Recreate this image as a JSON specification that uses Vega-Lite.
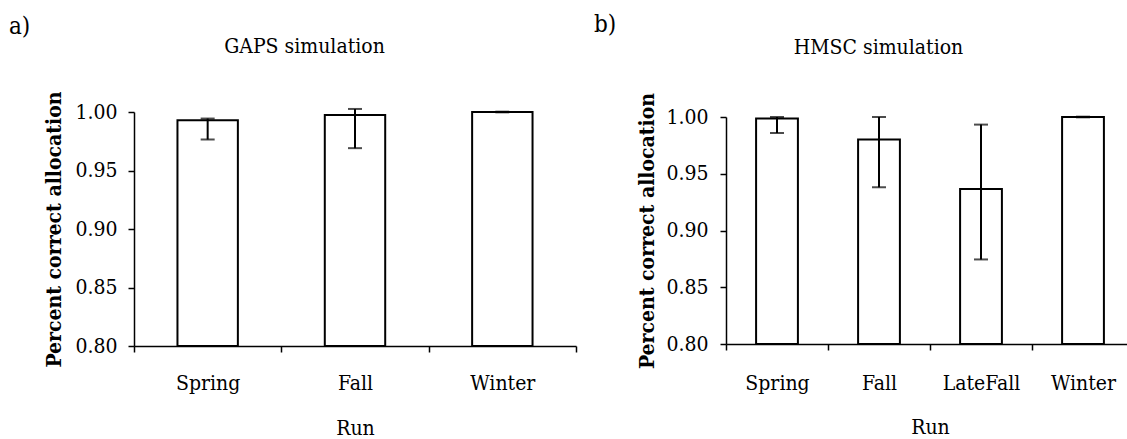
{
  "$schema": "https://vega.github.io/schema/vega-lite/v6.json",
  "autosize": {"type": "pad"},
  "padding": {"left": 9, "top": 13, "right": 0, "bottom": 0},
  "background": "white",
  "datasets": {
    "gaps": [
      {"Run": "Spring", "value": 0.9929, "lower": 0.9765, "upper": 0.9944},
      {"Run": "Fall", "value": 0.9975, "lower": 0.9691, "upper": 1.0026},
      {"Run": "Winter", "value": 1.0, "lower": 0.9997, "upper": 1.0003}
    ],
    "hmsc": [
      {"Run": "Spring", "value": 0.9986, "lower": 0.9859, "upper": 1.0},
      {"Run": "Fall", "value": 0.9801, "lower": 0.9381, "upper": 1.0},
      {"Run": "LateFall", "value": 0.9366, "lower": 0.8745, "upper": 0.9933},
      {"Run": "Winter", "value": 1.0, "lower": 0.9997, "upper": 1.0003}
    ]
  },
  "hconcat": [
    {
      "width": 442,
      "height": 234,
      "data": {"name": "gaps"},
      "title": {"text": "a)", "anchor": "start", "frame": "group", "dx": -125, "fontSize": 24, "fontWeight": "normal", "baseline": "alphabetic", "offset": -23},
      "layer": [
        {
          "mark": {"type": "bar", "fill": "white", "stroke": "black", "strokeWidth": 2, "width": {"band": 0.41}},
          "encoding": {
            "x": {"field": "Run", "type": "nominal", "sort": null, "scale": {"paddingInner": 0, "paddingOuter": 0},
              "axis": {"orient": "bottom", "title": "Run", "labelAngle": 0, "tickBand": "extent", "labelPadding": 20, "titlePadding": 24, "titleFontWeight": "normal"}},
            "y": {"field": "value", "type": "quantitative", "title": "Percent correct allocation",
              "scale": {"domain": [0.8, 1.0], "zero": false, "nice": false},
              "axis": {"values": [0.8, 0.85, 0.9, 0.95, 1.0], "format": ".2f", "labelPadding": 11, "titlePadding": 10, "titleFontSize": 21, "titleFontWeight": "bold"}},
            "y2": {"datum": 0.8}
          }
        },
        {
          "mark": {"type": "rule", "color": "black", "strokeWidth": 2},
          "encoding": {
            "x": {"field": "Run", "type": "nominal", "sort": null,
              "axis": {"orient": "top", "domain": false, "ticks": false, "labels": false, "title": "GAPS simulation", "titleFontWeight": "normal", "titleFontSize": 21, "titleX": 170, "titleY": -60, "titleBaseline": "alphabetic", "titleAlign": "center"}},
            "y": {"field": "lower", "type": "quantitative", "title": "Percent correct allocation"},
            "y2": {"field": "upper"}
          }
        },
        {
          "mark": {"type": "tick", "color": "black", "size": 14, "thickness": 2},
          "encoding": {
            "x": {"field": "Run", "type": "nominal", "sort": null, "axis": null},
            "y": {"field": "lower", "type": "quantitative", "title": "Percent correct allocation"}
          }
        },
        {
          "mark": {"type": "tick", "color": "black", "size": 14, "thickness": 2},
          "encoding": {
            "x": {"field": "Run", "type": "nominal", "sort": null, "axis": null},
            "y": {"field": "upper", "type": "quantitative", "title": "Percent correct allocation"}
          }
        }
      ],
      "resolve": {"axis": {"x": "independent"}}
    },
    {
      "width": 408,
      "height": 232,
      "data": {"name": "hmsc"},
      "title": {"text": "b)", "anchor": "start", "frame": "group", "dx": -132, "fontSize": 24, "fontWeight": "normal", "baseline": "alphabetic", "offset": -20},
      "layer": [
        {
          "mark": {"type": "bar", "fill": "white", "stroke": "black", "strokeWidth": 2, "width": {"band": 0.41}},
          "encoding": {
            "x": {"field": "Run", "type": "nominal", "sort": null, "scale": {"paddingInner": 0, "paddingOuter": 0},
              "axis": {"orient": "bottom", "title": "Run", "labelAngle": 0, "tickBand": "extent", "labelPadding": 22, "titlePadding": 23, "titleFontWeight": "normal"}},
            "y": {"field": "value", "type": "quantitative", "title": "Percent correct allocation",
              "scale": {"domain": [0.8, 1.0], "zero": false, "nice": false, "range": [232, 5]},
              "axis": {"values": [0.8, 0.85, 0.9, 0.95, 1.0], "format": ".2f", "labelPadding": 12, "titlePadding": 8, "titleFontSize": 21, "titleFontWeight": "bold"}},
            "y2": {"datum": 0.8}
          }
        },
        {
          "mark": {"type": "rule", "color": "black", "strokeWidth": 2},
          "encoding": {
            "x": {"field": "Run", "type": "nominal", "sort": null,
              "axis": {"orient": "top", "domain": false, "ticks": false, "labels": false, "title": "HMSC simulation", "titleFontWeight": "normal", "titleFontSize": 21, "titleX": 152, "titleY": -59, "titleBaseline": "alphabetic", "titleAlign": "center"}},
            "y": {"field": "lower", "type": "quantitative", "title": "Percent correct allocation"},
            "y2": {"field": "upper"}
          }
        },
        {
          "mark": {"type": "tick", "color": "black", "size": 14, "thickness": 2},
          "encoding": {
            "x": {"field": "Run", "type": "nominal", "sort": null, "axis": null},
            "y": {"field": "lower", "type": "quantitative", "title": "Percent correct allocation"}
          }
        },
        {
          "mark": {"type": "tick", "color": "black", "size": 14, "thickness": 2},
          "encoding": {
            "x": {"field": "Run", "type": "nominal", "sort": null, "axis": null},
            "y": {"field": "upper", "type": "quantitative", "title": "Percent correct allocation"}
          }
        }
      ],
      "resolve": {"axis": {"x": "independent"}}
    }
  ],
  "spacing": 150,
  "bounds": "flush",
  "config": {
    "font": "DejaVu Serif Condensed, DejaVu Serif",
    "view": {"stroke": null},
    "axis": {
      "grid": false,
      "domainColor": "black",
      "domainWidth": 1.5,
      "tickColor": "black",
      "tickWidth": 1.5,
      "tickSize": 6,
      "labelColor": "black",
      "titleColor": "black",
      "labelFontSize": 21,
      "titleFontSize": 21,
      "labelFont": "DejaVu Serif Condensed, DejaVu Serif",
      "titleFont": "DejaVu Serif Condensed, DejaVu Serif"
    },
    "title": {"color": "black", "font": "DejaVu Serif Condensed, DejaVu Serif"}
  }
}
